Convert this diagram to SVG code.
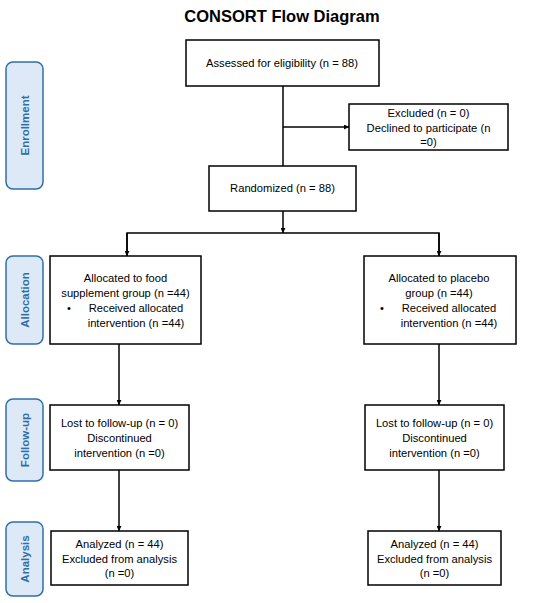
<svg xmlns="http://www.w3.org/2000/svg" width="550" height="603" viewBox="0 0 550 603">
<style>
.box{fill:#fff;stroke:#000;stroke-width:1.5}
.side{fill:#dde9f6;stroke:#2f6fa8;stroke-width:1.5}
.t{font-family:"Liberation Sans",Arial,sans-serif;font-size:11.2px;fill:#000;text-anchor:middle}
.s{font-family:"Liberation Sans",Arial,sans-serif;font-size:11.5px;font-weight:bold;fill:#2f6fa8;text-anchor:middle}
.ttl{font-family:"Liberation Sans",Arial,sans-serif;font-size:16.5px;font-weight:bold;fill:#000;text-anchor:middle}
.c{fill:none;stroke:#000;stroke-width:1.5}
</style>
<defs>
<marker id="ah" viewBox="0 0 10 10" refX="10" refY="5" markerWidth="5" markerHeight="5" orient="auto" markerUnits="userSpaceOnUse">
<path d="M0,0 L10,5 L0,10 z" fill="#000"/>
</marker>
</defs>
<text class="ttl" x="282" y="22">CONSORT Flow Diagram</text>

<g id="side-enrollment"><rect class="side" x="6" y="62" width="37" height="127" rx="7"/><text class="s" transform="translate(29,125.5) rotate(-90)">Enrollment</text></g>
<g id="side-allocation"><rect class="side" x="6" y="256" width="37" height="88" rx="7"/><text class="s" transform="translate(29,300) rotate(-90)">Allocation</text></g>
<g id="side-followup"><rect class="side" x="6" y="399" width="37" height="82" rx="7"/><text class="s" transform="translate(29,440) rotate(-90)">Follow-up</text></g>
<g id="side-analysis"><rect class="side" x="6" y="522" width="37" height="74" rx="7"/><text class="s" transform="translate(29,559) rotate(-90)">Analysis</text></g>

<g id="connectors">
<path class="c" d="M283,86 V166"/>
<path class="c" d="M283,127 H349" marker-end="url(#ah)"/>
<path class="c" d="M283,211 V233" marker-end="url(#ah)"/>
<path class="c" d="M127,256 V233 H439 V256"/>
<path class="c" d="M127,233 V256" marker-end="url(#ah)"/>
<path class="c" d="M439,233 V256" marker-end="url(#ah)"/>
<path class="c" d="M119,344 V405" marker-end="url(#ah)"/>
<path class="c" d="M439,344 V405" marker-end="url(#ah)"/>
<path class="c" d="M119,470 V531" marker-end="url(#ah)"/>
<path class="c" d="M439,470 V531" marker-end="url(#ah)"/>
</g>

<g id="assessed"><rect class="box" x="186" y="40" width="193" height="46"/><text class="t" x="282" y="67">Assessed for eligibility (n = 88)</text></g>
<g id="excluded"><rect class="box" x="349" y="104" width="159" height="46"/>
<text class="t" x="428.5" y="117">Excluded (n = 0)</text>
<text class="t" x="428.5" y="131.5">Declined to participate (n</text>
<text class="t" x="428.5" y="146">=0)</text></g>
<g id="randomized"><rect class="box" x="209" y="166" width="147" height="45"/><text class="t" x="282.5" y="192">Randomized (n = 88)</text></g>

<g id="alloc-food"><rect class="box" x="50" y="256" width="151" height="88"/>
<text class="t" x="125.5" y="282">Allocated to food</text>
<text class="t" x="125.5" y="297">supplement group (n =44)</text>
<text class="t" x="69" y="312">•</text>
<text class="t" x="136" y="312">Received allocated</text>
<text class="t" x="136" y="327">intervention (n =44)</text></g>
<g id="alloc-placebo"><rect class="box" x="364" y="256" width="152" height="88"/>
<text class="t" x="439" y="282">Allocated to placebo</text>
<text class="t" x="439" y="297">group (n =44)</text>
<text class="t" x="382" y="312">•</text>
<text class="t" x="449" y="312">Received allocated</text>
<text class="t" x="449" y="327">intervention (n =44)</text></g>

<g id="followup-food"><rect class="box" x="50" y="405" width="139" height="65"/>
<text class="t" x="119.5" y="427">Lost to follow-up (n = 0)</text>
<text class="t" x="119.5" y="442">Discontinued</text>
<text class="t" x="119.5" y="457">intervention (n =0)</text></g>
<g id="followup-placebo"><rect class="box" x="365" y="405" width="139" height="65"/>
<text class="t" x="434.5" y="427">Lost to follow-up (n = 0)</text>
<text class="t" x="434.5" y="442">Discontinued</text>
<text class="t" x="434.5" y="457">intervention (n =0)</text></g>

<g id="analysis-food"><rect class="box" x="51" y="531" width="137" height="54"/>
<text class="t" x="119.5" y="548">Analyzed (n = 44)</text>
<text class="t" x="119.5" y="563">Excluded from analysis</text>
<text class="t" x="119.5" y="577">(n =0)</text></g>
<g id="analysis-placebo"><rect class="box" x="368" y="531" width="133" height="54"/>
<text class="t" x="434.5" y="548">Analyzed (n = 44)</text>
<text class="t" x="434.5" y="563">Excluded from analysis</text>
<text class="t" x="434.5" y="577">(n =0)</text></g>
</svg>
